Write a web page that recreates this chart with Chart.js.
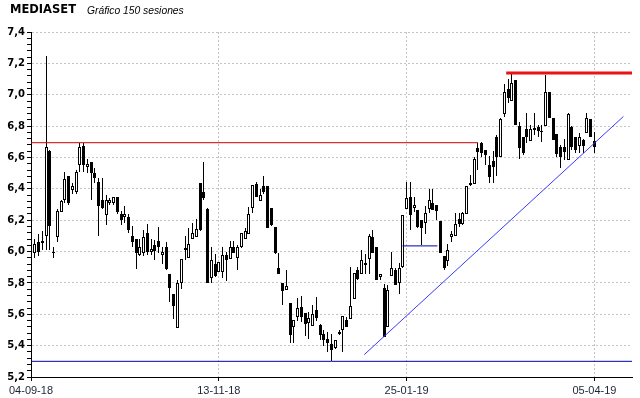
<!DOCTYPE html>
<html><head><meta charset="utf-8">
<script src="https://cdn.jsdelivr.net/npm/chart.js@4/dist/chart.umd.min.js"></script>
<style>
html,body{margin:0;padding:0;background:#fff;}
#wrap{position:relative;width:640px;height:398px;overflow:hidden;}
canvas{position:absolute;left:0;top:0;}
#title{position:absolute;left:10px;top:4px;font:bold 11.5px "DejaVu Sans";line-height:11.5px;color:#000;white-space:nowrap;}
#sub{position:absolute;left:87px;top:6px;font:italic 10.3px "Liberation Sans";line-height:10.3px;color:#000;white-space:nowrap;}
</style></head><body>
<div id="wrap"><canvas id="c" width="640" height="398"></canvas>
<div id="title">MEDIASET</div><div id="sub">Gráfico 150 sesiones</div></div>
<script>
const openP = [5.99,6.06,6.055,6.10,6.64,6.00,6.09,6.25,6.33,6.48,
 6.39,6.38,6.55,6.67,6.54,6.57,6.50,6.445,6.33,6.23,
 6.31,6.31,6.345,6.24,6.22,6.22,6.10,6.08,5.98,5.99,
 6.12,6.00,6.04,6.07,5.98,6.03,5.86,5.73,5.515,5.80,
 6.01,5.96,6.08,6.095,6.44,6.38,6.27,5.83,5.92,5.87,
 5.87,5.98,5.95,6.026,5.956,6.026,6.08,6.115,6.275,6.43,
 6.32,6.418,6.418,6.275,6.158,5.898,5.80,5.757,5.67,5.52,
 5.583,5.647,5.61,5.545,5.527,5.63,5.53,5.472,5.44,5.41,
 5.387,5.472,5.50,5.566,5.572,5.70,5.88,5.86,5.917,5.95,
 6.09,6.03,5.838,5.77,5.52,5.843,5.88,5.80,5.90,6.269,
 6.35,6.28,6.264,6.20,6.18,6.27,6.311,6.30,6.196,5.97,
 5.94,6.094,6.10,6.21,6.175,6.24,6.44,6.43,6.658,6.695,
 6.648,6.55,6.58,6.733,6.60,6.88,7.035,6.957,7.095,6.80,
 6.733,6.78,6.708,6.786,6.797,6.768,6.80,7.02,6.85,6.75,
 6.665,6.665,6.584,6.797,6.73,6.674,6.712,6.759,6.844,6.708];
const highP = [6.08,6.11,6.13,7.25,6.65,6.03,6.27,6.33,6.51,6.48,
 6.44,6.52,6.69,6.69,6.59,6.57,6.53,6.47,6.47,6.36,
 6.34,6.35,6.35,6.26,6.29,6.24,6.16,6.08,6.08,6.14,
 6.175,6.08,6.075,6.155,6.03,6.06,5.86,5.73,5.82,5.955,
 6.10,6.15,6.18,6.21,6.44,6.57,6.28,6.03,5.985,5.935,
 6.03,6.00,6.07,6.07,6.04,6.12,6.15,6.285,6.424,6.445,
 6.397,6.48,6.418,6.275,6.158,5.99,5.80,5.88,5.67,5.566,
 5.706,5.715,5.61,5.615,5.657,5.71,5.54,5.50,5.487,5.476,
 5.438,5.502,5.59,5.583,5.902,5.864,5.90,6.01,5.987,6.115,
 6.137,6.03,5.86,5.796,5.785,5.994,5.898,5.924,6.23,6.445,
 6.445,6.35,6.264,6.20,6.29,6.396,6.396,6.30,6.196,5.97,
 6.05,6.13,6.247,6.243,6.25,6.42,6.49,6.60,6.69,6.70,
 6.65,6.61,6.64,6.743,6.85,7.07,7.10,7.14,7.095,6.826,
 6.733,6.886,6.808,6.886,6.808,6.808,7.127,7.02,6.85,6.75,
 6.68,6.72,6.886,6.801,6.73,6.754,6.716,6.886,6.844,6.765];
const lowP = [5.96,5.97,6.01,6.01,6.01,5.96,6.06,6.25,6.31,6.30,
 6.37,6.37,6.51,6.51,6.50,6.33,6.44,6.10,6.27,6.17,
 6.30,6.30,6.24,6.17,6.18,6.12,6.03,5.89,5.97,5.97,
 5.98,5.98,5.945,5.99,5.92,5.88,5.68,5.57,5.515,5.76,
 5.945,5.96,6.08,6.095,6.13,6.33,5.80,5.80,5.84,5.87,
 5.834,5.81,5.95,5.99,5.88,6.02,6.08,6.115,6.243,6.35,
 6.32,6.37,6.147,6.16,5.983,5.86,5.66,5.757,5.417,5.417,
 5.56,5.55,5.46,5.444,5.527,5.56,5.434,5.395,5.36,5.30,
 5.38,5.465,5.36,5.52,5.572,5.70,5.817,5.86,5.86,5.86,
 5.99,5.817,5.817,5.455,5.52,5.843,5.785,5.732,5.898,6.269,
 6.136,6.254,6.147,6.04,6.115,6.243,6.264,6.20,5.988,5.88,
 5.91,6.06,6.10,6.158,6.17,6.24,6.42,6.43,6.52,6.60,
 6.55,6.435,6.435,6.48,6.60,6.86,6.95,6.957,6.808,6.588,
 6.616,6.695,6.708,6.744,6.733,6.70,6.80,6.85,6.71,6.605,
 6.53,6.584,6.584,6.648,6.627,6.627,6.627,6.759,6.733,6.63];
const closeP = [6.05,6.00,6.07,6.665,6.16,5.99,6.26,6.32,6.46,6.31,
 6.42,6.51,6.665,6.55,6.56,6.50,6.47,6.29,6.28,6.33,
 6.33,6.35,6.255,6.20,6.24,6.14,6.06,5.99,6.03,6.09,
 6.00,6.015,6.005,6.03,6.00,5.89,5.77,5.65,5.80,5.955,
 6.02,6.05,6.12,6.145,6.14,6.34,5.80,5.945,5.845,5.935,
 5.977,5.945,6.026,5.99,6.026,6.12,6.13,6.24,6.424,6.35,
 6.36,6.38,6.153,6.17,5.988,5.86,5.75,5.778,5.47,5.566,
 5.64,5.583,5.536,5.576,5.60,5.578,5.466,5.438,5.417,5.37,
 5.438,5.489,5.59,5.52,5.65,5.864,5.828,5.945,5.93,6.10,
 5.99,5.817,5.855,5.455,5.757,5.898,5.785,5.892,6.23,6.339,
 6.232,6.30,6.158,6.147,6.243,6.33,6.264,6.258,5.988,5.892,
 6.01,6.111,6.175,6.175,6.243,6.418,6.424,6.588,6.637,6.627,
 6.616,6.478,6.54,6.60,6.844,7.02,6.978,7.074,6.808,6.66,
 6.627,6.733,6.78,6.776,6.77,6.762,7.02,6.85,6.71,6.62,
 6.605,6.637,6.878,6.665,6.648,6.73,6.67,6.85,6.733,6.665];

// date tick labels and the session index each one sits on
const tickLabels = ['04-09-18', '13-11-18', '25-01-19', '05-04-19'];
const tickSessions = [-1, 49, 99, 149];

// drawn study lines: [session, price] end points
const trendLine = [[87.7, 5.342], [156.7, 6.861]];
const topResistance = [[125.5, 7.138], [159, 7.138]];
const upperLevel = [[-1, 6.694], [118.0, 6.694]];
const lowerLevel = [[-1, 5.30], [159, 5.30]];
const gapLevel = [[97.9, 6.036], [107.2, 6.036]];

const isMajor = v => Math.abs(v * 5 - Math.round(v * 5)) < 1e-6;
const toPts = arr => arr.map(p => ({x: p[0], y: p[1]}));
const lineDs = (arr, color, w) => ({type: 'line', data: toPts(arr), borderColor: color, borderWidth: w,
  pointRadius: 0, fill: false, tension: 0, order: 0});

// snap the library-computed bar positions to whole pixels for crisp candles
const snapPlugin = {
  id: 'snap',
  afterDatasetsUpdate(chart) {
    chart.data.datasets.forEach((ds, di) => {
      if (ds.type === 'line') return;
      chart.getDatasetMeta(di).data.forEach(el => {
        el.x = Math.floor(el.x) + 0.5;
        const a = Math.round(el.y), b = Math.round(el.base);
        el.y = a; el.base = (a === b) ? b + 1 : b;
      });
    });
  }
};

new Chart(document.getElementById('c'), {
  type: 'bar',
  plugins: [snapPlugin],
  data: {
    datasets: [
      lineDs(trendLine, '#3a3aff', 1),
      lineDs(topResistance, '#ee1111', 3),
      lineDs(upperLevel, '#cc0000', 1),
      lineDs(lowerLevel, '#0000b0', 1),
      lineDs(gapLevel, '#0000b0', 1),
      {
        label: 'bodies',
        data: openP.map((o, i) => ({x: i, y: [o, closeP[i]]})),
        backgroundColor: openP.map((o, i) => closeP[i] >= o ? '#ffffff' : '#000000'),
        borderColor: '#000000', borderWidth: 1, borderSkipped: false,
        barThickness: 3, minBarLength: 1, grouped: false, inflateAmount: 0, order: 1
      },
      {
        label: 'wicks',
        data: lowP.map((l, i) => ({x: i, y: [l, highP[i]]})),
        backgroundColor: '#000000', borderWidth: 0,
        barThickness: 1, grouped: false, inflateAmount: 0, order: 2
      }
    ]
  },
  options: {
    responsive: false, animation: false, devicePixelRatio: 1,
    layout: {padding: {top: 32, right: 8, left: 0, bottom: 0}},
    plugins: {legend: {display: false}, tooltip: {enabled: false}, title: {display: false}},
    scales: {
      x: {
        type: 'linear', min: -1, max: 159, offset: false,
        afterBuildTicks: s => { s.ticks = tickSessions.map(v => ({value: v})); },
        afterFit: s => { s.height = 21; },
        ticks: {
          autoSkip: false, maxRotation: 0, color: '#1c2434', padding: 3,
          font: {family: 'Liberation Sans', size: 11},
          callback: v => { const k = tickSessions.indexOf(v); return k >= 0 ? tickLabels[k] : ''; }
        },
        grid: {color: '#c4c4c4', lineWidth: 1, tickLength: 4, tickColor: '#000', offset: false},
        border: {color: '#000', width: 1, dash: [2, 2]}
      },
      y: {
        min: 5.2, max: 7.4,
        afterBuildTicks: s => { const t = []; for (let k = 0; k <= 55; k++) t.push({value: Math.round((5.2 + k * 0.04) * 100) / 100}); s.ticks = t; },
        afterFit: s => { s.width = 31; },
        ticks: {
          autoSkip: false, color: '#000', padding: 2,
          font: {family: 'DejaVu Sans', size: 10, weight: 'bold'},
          callback: v => isMajor(v) ? v.toFixed(1).replace('.', ',') : ''
        },
        grid: {
          color: c => (c.tick && isMajor(c.tick.value)) ? '#c4c4c4' : 'rgba(0,0,0,0)',
          lineWidth: 1, tickLength: 4, tickColor: '#000'
        },
        border: {color: '#000', width: 1, dash: [2, 2]}
      }
    }
  }
});
</script>
</body></html>
